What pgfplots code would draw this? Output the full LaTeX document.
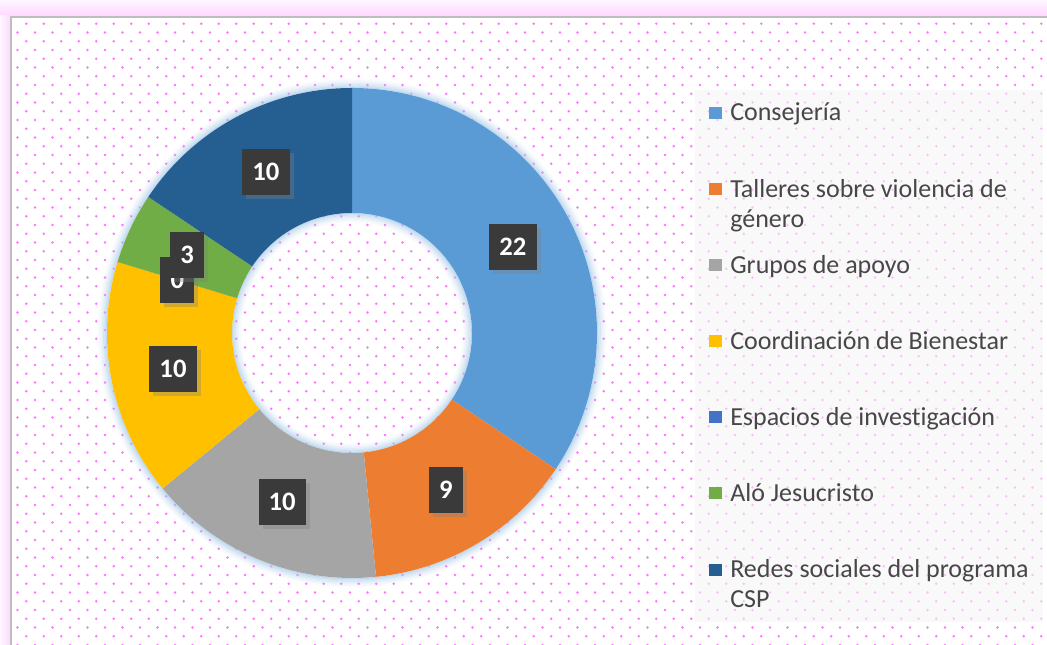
\documentclass[border=0pt]{standalone}
\usepackage{pgfplots}
\pgfplotsset{compat=1.18}
\usepackage{pgfplotstable}
\usepackage{fontspec}
\setmainfont{Carlito}[Ligatures={NoCommon}]
\usetikzlibrary{patterns,shadows}

\definecolor{c0}{HTML}{5B9BD5}
\definecolor{c1}{HTML}{ED7D31}
\definecolor{c2}{HTML}{A5A5A5}
\definecolor{c3}{HTML}{FFC000}
\definecolor{c4}{HTML}{4472C4}
\definecolor{c5}{HTML}{70AD47}
\definecolor{c6}{HTML}{255E91}
\definecolor{legtext}{HTML}{474747}
\definecolor{dotpink}{RGB}{255,115,255}
\definecolor{glow}{HTML}{A9CBEA}
\definecolor{boxgray}{HTML}{3A3A3A}
\definecolor{pinkbg}{RGB}{255,232,255}
\definecolor{pinklight}{RGB}{255,246,255}
\definecolor{pinkdark}{RGB}{255,215,255}
\definecolor{framegray}{RGB}{190,190,190}
\definecolor{legbg}{RGB}{246,246,246}

\pgfdeclarepatternformonly{pdots}{\pgfpoint{-1.5pt}{-1.5pt}}{\pgfpoint{14.5pt}{14.5pt}}{\pgfpoint{13.125pt}{13.125pt}}{%
  \pgfpathcircle{\pgfpoint{0pt}{0pt}}{0.95pt}%
  \pgfpathcircle{\pgfpoint{6.5625pt}{6.5625pt}}{0.95pt}%
  \pgfusepath{fill}}

\tikzset{lbl/.style={fill=boxgray, text=white, font=\fontsize{20}{22}\selectfont\bfseries,
    inner xsep=7.6pt, inner ysep=0pt, minimum height=34.5pt,
    drop shadow={shadow xshift=3pt, shadow yshift=-3pt, opacity=0.35}}}

\pgfplotstableread[col sep=comma]{
lineA,lineB,value
Consejería,,22
Talleres sobre violencia de,género,9
Grupos de apoyo,,10
Coordinación de Bienestar,,10
Espacios de investigación,,0
Aló Jesucristo,,3
Redes sociales del programa,CSP,10
}\data

\begin{document}
\begin{tikzpicture}
\begin{axis}[
  scale only axis, width=785.25pt, height=483.75pt,
  xmin=0, xmax=1047, ymin=0, ymax=645,
  hide axis,
]
% background
\fill[pinkbg] (axis cs:0,0) rectangle (axis cs:1047,645);
\shade[top color=pinklight, bottom color=pinkdark] (axis cs:0,629) rectangle (axis cs:1047,645);
\shade[left color=pinklight, right color=pinkdark] (axis cs:0,0) rectangle (axis cs:11,629);
\fill[white] (axis cs:11,0) rectangle (axis cs:1047,628);
\fill[pattern=pdots, pattern color=dotpink] (axis cs:12,0) rectangle (axis cs:1047,627);
\draw[framegray, line width=1.5pt] (axis cs:11,0) -- (axis cs:11,628) -- (axis cs:1047,628);
% legend box
\fill[legbg, opacity=0.6] (axis cs:695,23) rectangle (axis cs:1043,555);
% glow
\draw[glow, opacity=0.70, line width=1pt] (axis cs:352,312) circle[radius=184.25pt];
\draw[glow, opacity=0.55, line width=1pt] (axis cs:352,312) circle[radius=185.25pt];
\draw[glow, opacity=0.42, line width=1pt] (axis cs:352,312) circle[radius=186.25pt];
\draw[glow, opacity=0.30, line width=1pt] (axis cs:352,312) circle[radius=187.25pt];
\draw[glow, opacity=0.20, line width=1pt] (axis cs:352,312) circle[radius=188.25pt];
\draw[glow, opacity=0.11, line width=1pt] (axis cs:352,312) circle[radius=189.25pt];
\draw[glow, opacity=0.05, line width=1pt] (axis cs:352,312) circle[radius=190.25pt];
\draw[glow, opacity=0.70, line width=1pt] (axis cs:352,312) circle[radius=89.5pt];
\draw[glow, opacity=0.55, line width=1pt] (axis cs:352,312) circle[radius=88.5pt];
\draw[glow, opacity=0.42, line width=1pt] (axis cs:352,312) circle[radius=87.5pt];
\draw[glow, opacity=0.30, line width=1pt] (axis cs:352,312) circle[radius=86.5pt];
\draw[glow, opacity=0.20, line width=1pt] (axis cs:352,312) circle[radius=85.5pt];
\draw[glow, opacity=0.11, line width=1pt] (axis cs:352,312) circle[radius=84.5pt];
\draw[glow, opacity=0.05, line width=1pt] (axis cs:352,312) circle[radius=83.5pt];
% total
\xdef\total{0}
\pgfplotsinvokeforeach{0,...,6}{
  \pgfplotstablegetelem{#1}{value}\of\data
  \pgfmathsetmacro\newtot{\total+\pgfplotsretval}
  \xdef\total{\newtot}
}
\pgfmathsetmacro\dega{360/\total}
\xdef\dega{\dega}
% sectors
\xdef\cum{0}
\pgfplotsinvokeforeach{0,...,6}{
  \pgfplotstablegetelem{#1}{value}\of\data
  \pgfmathsetmacro\va{\pgfplotsretval}
  \pgfmathsetmacro\angA{90-\dega*\cum}
  \pgfmathsetmacro\angB{90-\dega*(\cum+\va)}
  \pgfmathsetmacro\xa{352+245*cos(\angA)}
  \pgfmathsetmacro\ya{312+245*sin(\angA)}
  \pgfmathsetmacro\xb{352+120*cos(\angB)}
  \pgfmathsetmacro\yb{312+120*sin(\angB)}
  \edef\temp{\noexpand\fill[c#1] (axis cs:\xa,\ya) arc[start angle=\angA, end angle=\angB, radius=183.75pt] -- (axis cs:\xb,\yb) arc[start angle=\angB, end angle=\angA, radius=90pt] -- cycle;}
  \temp
  \pgfmathsetmacro\newcum{\cum+\va}
  \xdef\cum{\newcum}
}
% labels
\xdef\cum{0}
\pgfplotsinvokeforeach{0,...,6}{
  \pgfplotstablegetelem{#1}{value}\of\data
  \pgfmathsetmacro\va{\pgfplotsretval}
  \pgfmathtruncatemacro\vi{\pgfplotsretval}
  \pgfmathsetmacro\angM{90-\dega*(\cum+\va/2)}
  \pgfmathsetmacro\xm{352+182.5*cos(\angM)}
  \pgfmathsetmacro\ym{312+182.5*sin(\angM)}
  \edef\temp{\noexpand\node[lbl] at (axis cs:\xm,\ym) {\vi};}
  \temp
  \pgfmathsetmacro\newcum{\cum+\va}
  \xdef\cum{\newcum}
}
% legend
\pgfplotsinvokeforeach{0,...,6}{
  \pgfplotstablegetelem{#1}{lineA}\of\data
  \let\la\pgfplotsretval
  \pgfplotstablegetelem{#1}{lineB}\of\data
  \let\lb\pgfplotsretval
  \pgfmathsetmacro\ybase{524-76.1*#1}
  \pgfmathsetmacro\ybb{\ybase-30}
  \pgfmathsetmacro\sqa{526-76.1*#1}
  \pgfmathsetmacro\sqb{538-76.1*#1}
  \edef\temp{\noexpand\fill[c#1] (axis cs:709,\sqa) rectangle (axis cs:722,\sqb);
    \noexpand\node[anchor=base west, inner sep=0pt, text=legtext, font=\noexpand\fontsize{19.5}{22}\noexpand\selectfont] at (axis cs:730,\ybase) {\la};
    \noexpand\node[anchor=base west, inner sep=0pt, text=legtext, font=\noexpand\fontsize{19.5}{22}\noexpand\selectfont] at (axis cs:730,\ybb) {\lb};}
  \temp
}
\end{axis}
\end{tikzpicture}
\end{document}
